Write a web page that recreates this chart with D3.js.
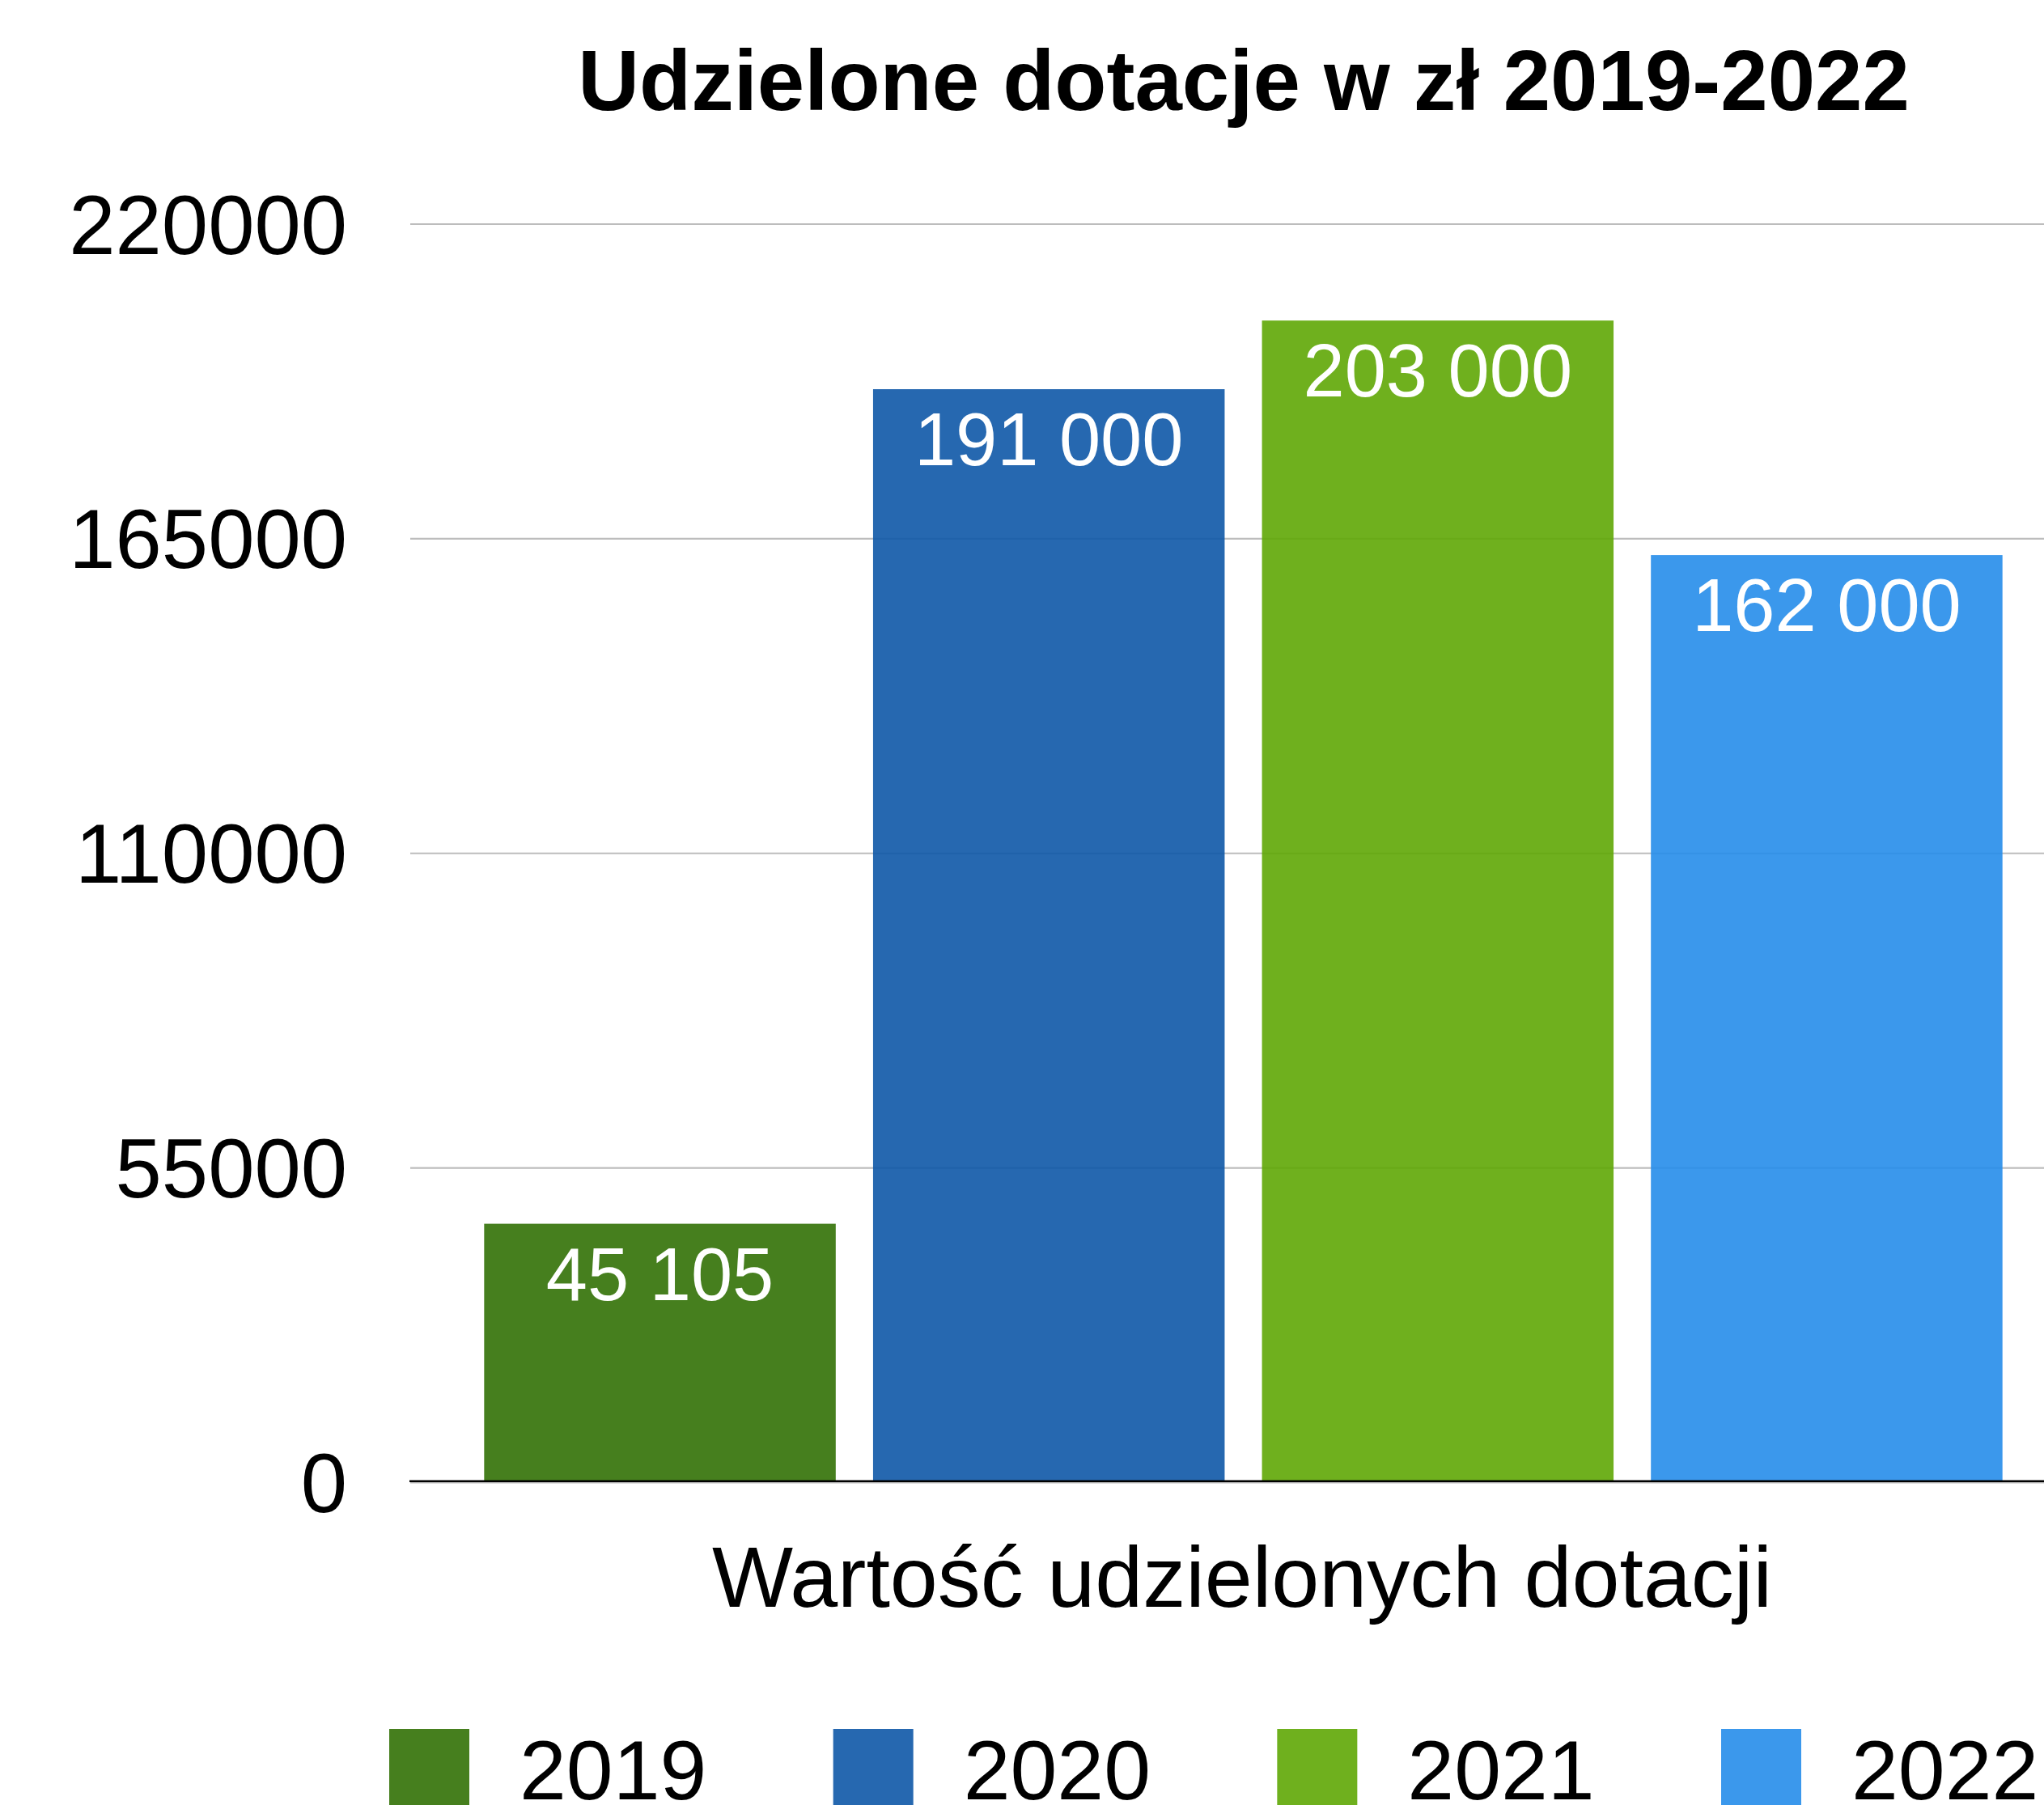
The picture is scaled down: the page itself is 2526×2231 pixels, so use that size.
<!DOCTYPE html>
<html lang="pl">
<head>
<meta charset="utf-8">
<title>Udzielone dotacje w zł 2019-2022</title>
<script src="https://cdn.jsdelivr.net/npm/d3@7"></script>
<style>
  html, body { margin: 0; padding: 0; background: #ffffff; }
  svg { display: block; }
  text { font-family: "Liberation Sans", Arial, Helvetica, sans-serif; }
</style>
</head>
<body>
<div id="chart"></div>
<script>
// Grant values per year (PLN)
const years = ["2019", "2020", "2021", "2022"];
const values = [45105, 191000, 203000, 162000];
const yTicks = [0, 55000, 110000, 165000, 220000];
const seriesColors = ["#327106", "#0e58a7", "#5fa706", "#268dea"];
const chartTitle = "Udzielone dotacje w zł 2019-2022";
const categoryLabel = "Wartość udzielonych dotacji";

const data = years.map((year, i) => ({ year, value: values[i], color: seriesColors[i] }));

const width = 2526, height = 2231;
const plot = { left: 507, right: 2566, top: 276, bottom: 1831.5 };

const svg = d3.select("#chart").append("svg")
  .attr("width", width)
  .attr("height", height)
  .attr("viewBox", `0 0 ${width} ${height}`);

const y = d3.scaleLinear()
  .domain([0, d3.max(yTicks)])
  .range([plot.bottom, plot.top]);

const x = d3.scaleBand()
  .domain(years)
  .range([plot.left, plot.right])
  .paddingInner(0.096)
  .paddingOuter(0.19);

const spaced = d3.formatLocale({ decimal: ",", thousands: " ", grouping: [3], currency: ["", " zł"] }).format(",d");

// Title
svg.append("text")
  .attr("x", 1537)
  .attr("y", 136)
  .attr("text-anchor", "middle")
  .attr("font-size", 105)
  .attr("font-weight", "bold")
  .attr("fill", "#000")
  .text(chartTitle);

// Horizontal gridlines and value axis labels
const yAxis = d3.axisLeft(y)
  .tickValues(yTicks)
  .tickSize(-(width - plot.left))
  .tickPadding(0)
  .tickFormat(d3.format("d"));

const yAxisG = svg.append("g")
  .attr("transform", `translate(${plot.left},0)`)
  .call(yAxis);

yAxisG.select(".domain").remove();
yAxisG.selectAll(".tick line")
  .attr("stroke", "#bdbdbd")
  .attr("stroke-width", 2.2)
  .attr("transform", "translate(0,0.5)");
yAxisG.selectAll(".tick text")
  .attr("x", -78)
  .attr("dy", "0.36em")
  .attr("font-size", 103)
  .attr("fill", "#000")
  .style("font-family", "\"Liberation Sans\", Arial, Helvetica, sans-serif");

// Bars
svg.append("g")
  .selectAll("rect")
  .data(data)
  .join("rect")
  .attr("x", d => x(d.year))
  .attr("y", d => y(d.value))
  .attr("width", x.bandwidth())
  .attr("height", d => y(0) - y(d.value))
  .attr("fill", d => d.color)
  .attr("fill-opacity", 0.9);

// Value labels inside the bars
svg.append("g")
  .selectAll("text")
  .data(data)
  .join("text")
  .attr("x", d => x(d.year) + x.bandwidth() / 2)
  .attr("y", d => y(d.value) + 94)
  .attr("text-anchor", "middle")
  .attr("font-size", 92)
  .attr("fill", "#ffffff")
  .text(d => spaced(d.value));

// Category axis baseline
svg.append("line")
  .attr("x1", plot.left - 1)
  .attr("x2", width)
  .attr("y1", y(0) - 0.8)
  .attr("y2", y(0) - 0.8)
  .attr("stroke", "#000")
  .attr("stroke-width", 2.6);

// Category label
svg.append("text")
  .attr("x", 1535)
  .attr("y", 1986)
  .attr("text-anchor", "middle")
  .attr("font-size", 106)
  .attr("fill", "#000")
  .text(categoryLabel);

// Legend
const legendX = d3.scalePoint()
  .domain(years)
  .range([481, 2127]);

const legend = svg.append("g")
  .selectAll("g")
  .data(data)
  .join("g")
  .attr("transform", d => `translate(${legendX(d.year)},2137)`);

legend.append("rect")
  .attr("width", 99)
  .attr("height", 99)
  .attr("fill", d => d.color)
  .attr("fill-opacity", 0.9);

legend.append("text")
  .attr("x", 161)
  .attr("y", 87)
  .attr("font-size", 104)
  .attr("fill", "#000")
  .text(d => d.year);
</script>
</body>
</html>
